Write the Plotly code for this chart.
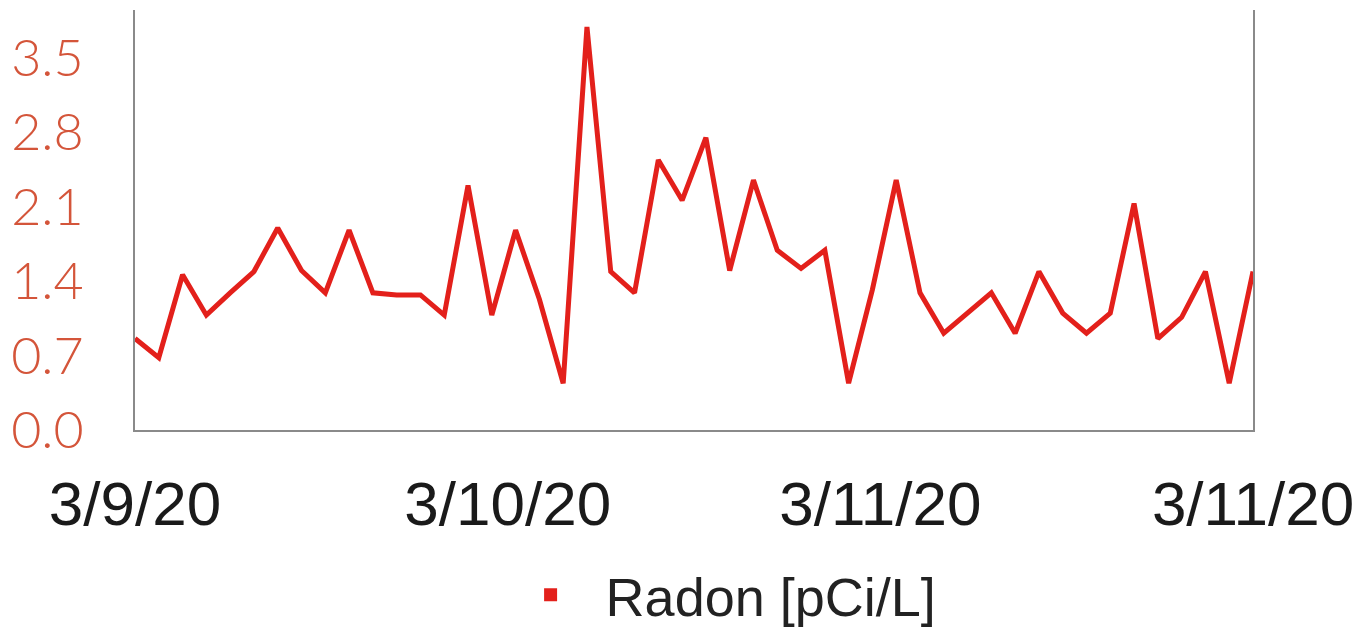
import numpy as np
import plotly.graph_objects as go

# radon readings (evenly spaced samples)
radon = [0.86, 0.68, 1.46, 1.08, 1.29, 1.49, 1.90, 1.50, 1.29, 1.88,
         1.29, 1.27, 1.27, 1.08, 2.30, 1.08, 1.88, 1.23, 0.44, 3.79,
         1.49, 1.29, 2.54, 2.16, 2.75, 1.50, 2.35, 1.69, 1.52, 1.69,
         0.44, 1.32, 2.35, 1.29, 0.91, 1.10, 1.29, 0.91, 1.49, 1.10,
         0.91, 1.10, 2.13, 0.86, 1.06, 1.49, 0.44, 1.49]
date_labels = ["3/9/20", "3/10/20", "3/11/20", "3/11/20"]
y_ticks = [0.0, 0.7, 1.4, 2.1, 2.8, 3.5]

idx = list(range(len(radon)))
tick_pos = list(np.linspace(0, len(radon) - 1, len(date_labels)))

RED = "#e3201b"

fig = go.Figure()
fig.add_trace(go.Scatter(x=idx, y=radon, mode="lines",
                         line=dict(color=RED, width=5),
                         showlegend=False, hoverinfo="skip"))
# legend entry with a square swatch
fig.add_trace(go.Scatter(x=[None], y=[None], mode="markers", name="Radon [pCi/L]",
                         marker=dict(symbol="square", size=13, color=RED)))

# page body has an 8px margin, so the figure is offset a little in the window
fig.update_layout(
    width=1355, height=626,
    margin=dict(l=127, r=110, t=2, b=204, autoexpand=False),
    plot_bgcolor="white", paper_bgcolor="white",
    showlegend=True,
    legend=dict(orientation="h", x=0.522, xanchor="center",
                yref="container", y=0.062, yanchor="middle",
                font=dict(family="Liberation Sans", size=54, color="#222222"),
                itemsizing="trace", itemwidth=100),
)
fig.update_xaxes(range=[0, len(radon) - 1], tickvals=tick_pos, ticktext=date_labels,
                 showgrid=False, zeroline=False, showline=True, linecolor="#8a8a8a", linewidth=2,
                 ticks="", ticklabelstandoff=19, automargin=False,
                 tickfont=dict(family="Liberation Sans", size=62, color="#1a1a1a"))
fig.update_yaxes(range=[0, 3.95], tickvals=y_ticks, ticktext=[f"{v:.1f}" for v in y_ticks],
                 showgrid=False, zeroline=False, showline=True, mirror=True,
                 linecolor="#8a8a8a", linewidth=2, ticks="", ticklabelstandoff=39, automargin=False,
                 tickfont=dict(family="Lato", size=52, color="#d4553a", weight=300))

fig.write_html("out.html")
